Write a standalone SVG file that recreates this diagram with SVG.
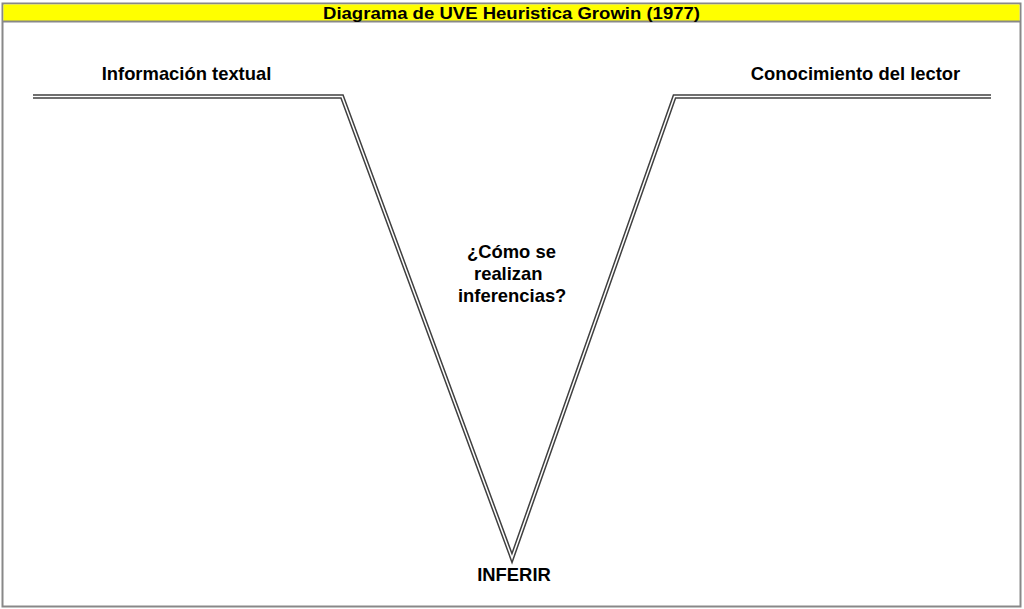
<svg xmlns="http://www.w3.org/2000/svg" width="1024" height="609" viewBox="0 0 1024 609">
<style>
.lbl{font-family:"Liberation Sans",Arial,sans-serif;font-weight:bold;font-size:18.4px;fill:#000}
.outer{fill:none;stroke:#404040;stroke-width:4.5;stroke-linejoin:miter}
.inner{fill:none;stroke:#fff;stroke-width:1.5;stroke-linejoin:miter}
</style>
<rect x="0" y="0" width="1024" height="609" fill="#fff"/>
<g id="frame">
<rect x="2.5" y="3.5" width="1018" height="603" fill="#fff" stroke="#888" stroke-width="2"/>
<rect x="3.5" y="4.5" width="1016" height="16.5" fill="#ffff00"/>
<line x1="2.5" y1="21.5" x2="1020.5" y2="21.5" stroke="#888" stroke-width="2"/>
<text class="lbl" x="511.5" y="18.5" text-anchor="middle" textLength="377" lengthAdjust="spacingAndGlyphs" style="font-size:17px">Diagrama de UVE Heuristica Growin (1977)</text>
</g>
<g id="connectors">
<path class="outer" d="M33,96.5 L342,96.5 L512,558 L674.5,96.5 L991,96.5"/>
<path class="inner" d="M33,96.5 L342,96.5 L512,558 L674.5,96.5 L991,96.5"/>
</g>
<g id="node-info">
<text class="lbl" x="186.5" y="80" text-anchor="middle">Información textual</text>
</g>
<g id="node-conoc">
<text class="lbl" x="855.5" y="80" text-anchor="middle">Conocimiento del lector</text>
</g>
<g id="node-question">
<text class="lbl" x="467" y="258">¿Cómo se</text>
<text class="lbl" x="474" y="280">realizan</text>
<text class="lbl" x="458" y="302">inferencias?</text>
</g>
<g id="node-inferir">
<text class="lbl" x="514" y="581" text-anchor="middle">INFERIR</text>
</g>
</svg>
